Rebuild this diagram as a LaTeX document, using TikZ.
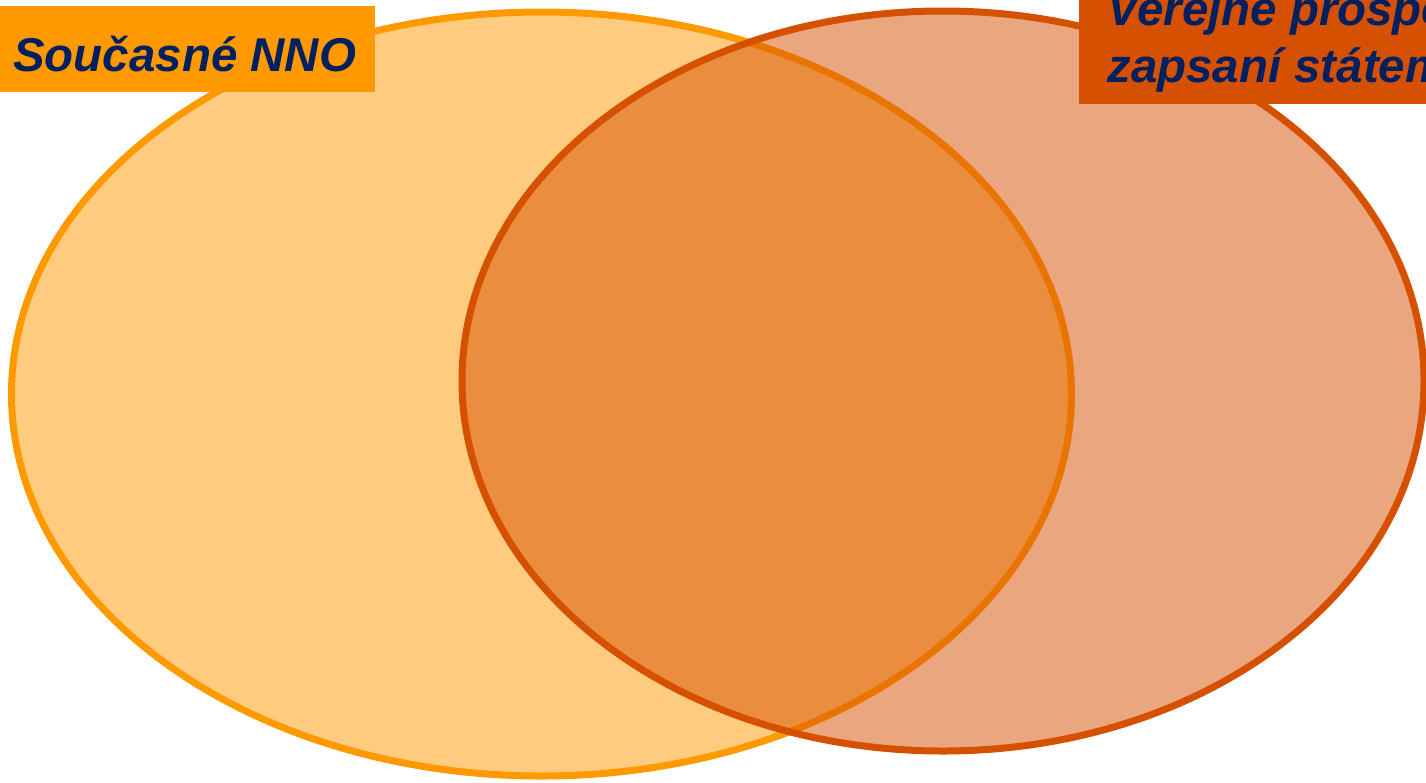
\documentclass[tikz,border=0pt]{standalone}
\usepackage{fontspec}
\setsansfont{Liberation Sans}
\usepackage{tikz}
\usetikzlibrary{positioning}
\definecolor{vennorange}{HTML}{FF9900}
\definecolor{vennrust}{HTML}{D55000}
\definecolor{vennnavy}{HTML}{002060}
\tikzset{
  venn label/.style={font=\fontsize{27}{32}\selectfont\sffamily\bfseries\itshape,
    text=vennnavy, inner sep=0pt, anchor=base west},
  venn set/.style={line width=0.14cm, fill opacity=0.5},
}

\begin{document}
\begin{tikzpicture}[x=0.02cm, y=-0.02cm]
  \useasboundingbox (0,0) rectangle (1426,782);
  \clip (0,0) rectangle (1426,782);
  % the two sets
  \filldraw[venn set, fill=vennorange, draw=vennorange] (541.5,394) ellipse [x radius=530, y radius=382];
  \filldraw[venn set, fill=vennrust, draw=vennrust] (943,381) ellipse [x radius=481, y radius=370];
  % labels
  \fill[vennorange] (0,6) rectangle (375,92);
  \node[venn label] (nno) at (13,71) {Současné NNO};
  \fill[vennrust] (1079,-5) rectangle (1440,104);
  \node[venn label] (vpo) at (1107,25) {Veřejně prospěšní};
  \node[venn label] (zapsani) at (1107,82) {zapsaní státem};
\end{tikzpicture}
\end{document}
